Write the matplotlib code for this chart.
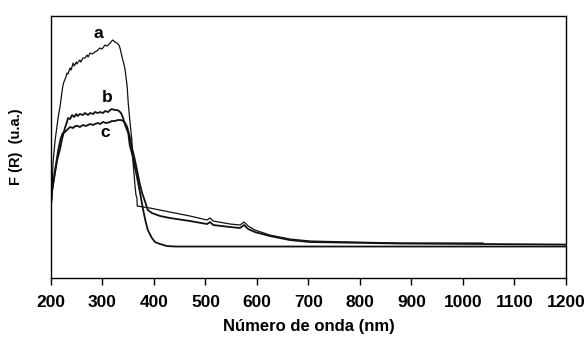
import matplotlib
matplotlib.use("Agg")
import matplotlib.pyplot as plt

plt.rcParams['font.family'] = ['Liberation Sans', 'DejaVu Sans']

# curve a (highest), ends at ~1040 nm
wl_a = [200, 202, 204, 208, 214, 218, 221, 223, 225, 229,
        231, 233, 237, 239, 243, 245, 249, 250, 256, 258,
        262, 266, 270, 272, 276, 280, 285, 289, 295, 299,
        305, 309, 315, 318, 320, 324, 328, 332, 334, 338,
        342, 344, 348, 350, 353, 357, 359, 363, 365, 367,
        367.5, 392, 431, 470, 503, 509, 515, 548, 567, 575,
        583, 596, 625, 664, 703, 781, 878, 1039]
fr_a = [0.73, 0.86, 1.16, 1.38, 1.61, 1.73, 1.85, 1.92, 1.96, 2.01,
        2.05, 2.04, 2.10, 2.08, 2.15, 2.12, 2.16, 2.14, 2.18, 2.16,
        2.20, 2.20, 2.23, 2.21, 2.25, 2.24, 2.26, 2.27, 2.30, 2.29,
        2.33, 2.32, 2.35, 2.37, 2.38, 2.36, 2.35, 2.33, 2.30, 2.21,
        2.13, 2.08, 1.91, 1.75, 1.58, 1.38, 1.18, 0.93, 0.83, 0.80,
        0.72, 0.70, 0.66, 0.62, 0.58, 0.60, 0.57, 0.54, 0.53, 0.56,
        0.52, 0.48, 0.43, 0.39, 0.37, 0.36, 0.35, 0.35]

# curve b
wl_b = [200, 202, 208, 212, 218, 221, 227, 231, 233, 237,
        241, 245, 249, 252, 256, 262, 266, 272, 276, 282,
        285, 291, 295, 301, 305, 311, 315, 318, 324, 328,
        332, 336, 340, 344, 350, 353, 359, 367, 373, 379,
        384, 388, 396, 402, 412, 425, 441, 1200]
fr_b = [0.73, 0.88, 1.06, 1.18, 1.30, 1.38, 1.50, 1.56, 1.60, 1.59,
        1.63, 1.61, 1.64, 1.62, 1.64, 1.63, 1.65, 1.63, 1.65, 1.64,
        1.66, 1.65, 1.66, 1.65, 1.67, 1.66, 1.68, 1.69, 1.68, 1.68,
        1.67, 1.65, 1.60, 1.53, 1.45, 1.33, 1.21, 1.01, 0.85, 0.68,
        0.56, 0.48, 0.40, 0.36, 0.34, 0.32, 0.315, 0.315]

# curve c
wl_c = [200, 202, 208, 214, 219, 223, 227, 231, 235, 237,
        243, 247, 252, 256, 262, 268, 276, 282, 285, 291,
        295, 301, 307, 315, 318, 324, 330, 336, 340, 344,
        348, 353, 357, 363, 367, 373, 377, 383, 388, 396,
        412, 431, 470, 503, 509, 515, 548, 567, 575, 583,
        596, 625, 664, 703, 878, 1200]
fr_c = [0.73, 0.86, 1.08, 1.28, 1.40, 1.45, 1.46, 1.48, 1.50, 1.51,
        1.50, 1.52, 1.52, 1.51, 1.53, 1.52, 1.54, 1.53, 1.54, 1.55,
        1.54, 1.56, 1.55, 1.56, 1.57, 1.57, 1.58, 1.58, 1.57, 1.55,
        1.51, 1.41, 1.31, 1.18, 1.08, 0.93, 0.85, 0.76, 0.68, 0.65,
        0.62, 0.60, 0.57, 0.54, 0.56, 0.53, 0.51, 0.50, 0.53, 0.49,
        0.46, 0.42, 0.38, 0.36, 0.345, 0.335]

labels = ['a', 'b', 'c']
label_pos = [(292, 2.45), (309, 1.81), (305, 1.46)]

fig = plt.figure(figsize=(5.87, 3.37), dpi=100)
ax = fig.add_axes([0.0869, 0.175, 0.877, 0.7775])

ax.plot(wl_a, fr_a, color='#111111', lw=0.9)
ax.plot(wl_b, fr_b, color='#111111', lw=1.3)
ax.plot(wl_c, fr_c, color='#111111', lw=1.3)

for lab, (xx, yy) in zip(labels, label_pos):
    ax.text(xx, yy, lab, fontsize=12.5, fontweight='bold', ha='center', va='center')

ax.set_xlim(200, 1200)
ax.set_ylim(0, 2.62)
ax.set_xticks(range(200, 1201, 100))
ax.set_yticks([])
ax.tick_params(axis='x', direction='out', length=5, width=1, labelsize=12.5, pad=7)
for t in ax.get_xticklabels():
    t.set_fontweight('bold')
for s in ax.spines.values():
    s.set_linewidth(1)

ax.set_xlabel('Número de onda (nm)', fontsize=12, fontweight='bold', labelpad=7)
ax.set_ylabel('F (R)  (u.a.)', fontsize=10.5, fontweight='bold', labelpad=20)

fig.savefig('out.png', dpi=100)
